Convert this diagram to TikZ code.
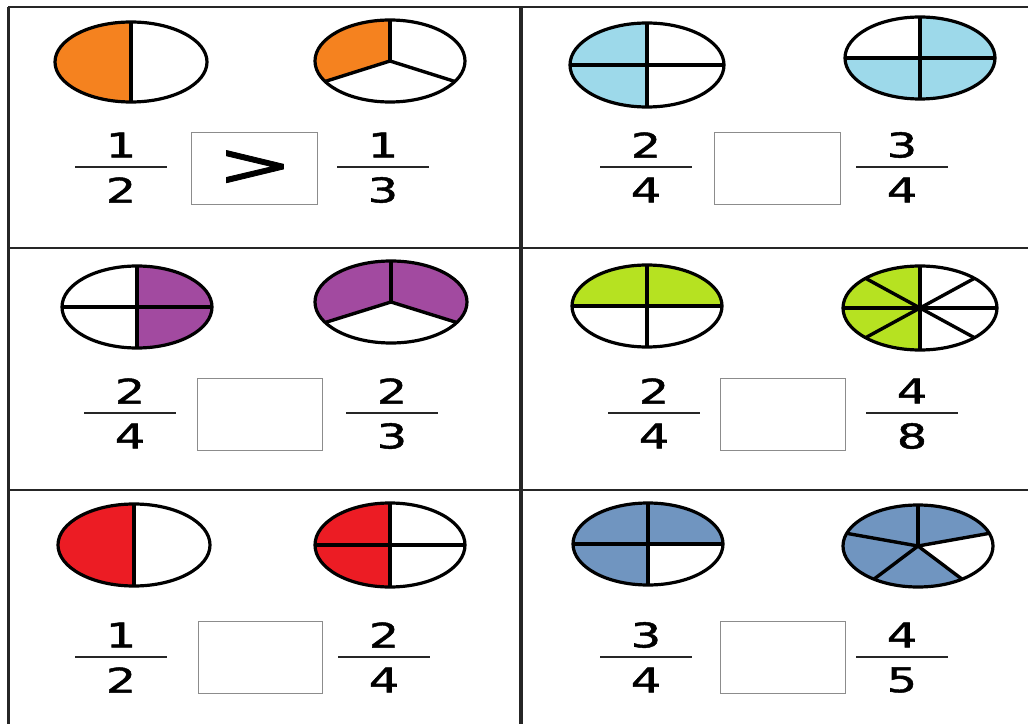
\documentclass[tikz,border=0pt]{standalone}
\usepackage{fontspec}
\newfontfamily\digitfont[FakeBold=1.3]{DejaVu Sans}
\definecolor{pieorange}{HTML}{F5821F}
\definecolor{pieblue}{HTML}{9DD9EA}
\definecolor{piepurple}{HTML}{A24AA0}
\definecolor{piegreen}{HTML}{B6E221}
\definecolor{piered}{HTML}{EC1C24}
\definecolor{piesteel}{HTML}{7095C0}
\newcommand\pieSect[3]{\fill[#3] (0,0) -- (#1:\rx pt and \ry pt) arc[start angle=#1,end angle=#2,x radius=\rx pt,y radius=\ry pt] -- cycle;}
\newcommand\pieSpoke[1]{\draw[divider] (0,0) -- (#1:\rx pt and \ry pt);}
\newcommand\pieRim{\draw[rimline] (0,0) ellipse [x radius=\rx pt,y radius=\ry pt];}
\newcommand\frc[5]{%
  \node[digit] (#1n) at (#2,#3+22) {#4};
  \node[digit] (#1d) at (#2,#3-23) {#5};
  \draw[fracbar] (#2-46,#3) -- (#2+46,#3);}
\begin{document}
\begin{tikzpicture}[x=1pt,y=1pt,
  digit/.style={font=\digitfont\fontsize{34}{34}\selectfont, inner sep=0pt, xscale=1.4},
  fracbar/.style={line width=2.8pt, black!85},
  answerbox/.style={draw=black!45, line width=1pt, minimum height=72pt, inner sep=0pt},
  gridline/.style={draw=black!85, line width=2pt},
  rimline/.style={line width=3.2pt},
  divider/.style={line width=3.4pt},
  signtext/.style={font=\digitfont\fontsize{60}{60}\selectfont, inner sep=0pt, xscale=1.5}]
\useasboundingbox (0,0) rectangle (1028,724);
\fill[white] (0,0) rectangle (1028,724);
% grid
\draw[gridline] (8,717) -- (1028,717);
\draw[gridline] (8,476) -- (1028,476);
\draw[gridline] (8,234) -- (1028,234);
\draw[gridline, line width=3pt] (8,717) -- (8,0);
\draw[gridline, line width=4pt] (521,717) -- (521,0);
% row 1 pies
\begin{scope}[shift={(131,662)}]\def\rx{76}\def\ry{40}
  \pieSect{90}{270}{pieorange}\pieSpoke{90}\pieSpoke{270}\pieRim
\end{scope}
\begin{scope}[shift={(390,663)}]\def\rx{75}\def\ry{41}
  \pieSect{90}{210}{pieorange}\pieSpoke{90}\pieSpoke{210}\pieSpoke{330}\pieRim
\end{scope}
\begin{scope}[shift={(647,659)}]\def\rx{77}\def\ry{42}
  \pieSect{90}{270}{pieblue}\pieSpoke{0}\pieSpoke{90}\pieSpoke{180}\pieSpoke{270}\pieRim
\end{scope}
\begin{scope}[shift={(920,666)}]\def\rx{75}\def\ry{41}
  \pieSect{180}{450}{pieblue}\pieSpoke{0}\pieSpoke{90}\pieSpoke{180}\pieSpoke{270}\pieRim
\end{scope}
% row 2 pies
\begin{scope}[shift={(137,417)}]\def\rx{75}\def\ry{41}
  \pieSect{-90}{90}{piepurple}\pieSpoke{0}\pieSpoke{90}\pieSpoke{180}\pieSpoke{270}\pieRim
\end{scope}
\begin{scope}[shift={(391,422)}]\def\rx{76}\def\ry{41}
  \pieSect{-30}{210}{piepurple}\pieSpoke{90}\pieSpoke{210}\pieSpoke{330}\pieRim
\end{scope}
\begin{scope}[shift={(647,418)}]\def\rx{75}\def\ry{41}
  \pieSect{0}{180}{piegreen}\pieSpoke{0}\pieSpoke{90}\pieSpoke{180}\pieSpoke{270}\pieRim
\end{scope}
\begin{scope}[shift={(920,416)}]\def\rx{77}\def\ry{42}
  \pieSect{90}{270}{piegreen}\foreach \a in {0,45,...,315}{\pieSpoke{\a}}\pieRim
\end{scope}
% row 3 pies
\begin{scope}[shift={(134,179)}]\def\rx{76}\def\ry{41}
  \pieSect{90}{270}{piered}\pieSpoke{90}\pieSpoke{270}\pieRim
\end{scope}
\begin{scope}[shift={(390,179)}]\def\rx{75}\def\ry{42}
  \pieSect{90}{270}{piered}\pieSpoke{0}\pieSpoke{90}\pieSpoke{180}\pieSpoke{270}\pieRim
\end{scope}
\begin{scope}[shift={(648,180)}]\def\rx{75}\def\ry{41}
  \pieSect{0}{270}{piesteel}\pieSpoke{0}\pieSpoke{90}\pieSpoke{180}\pieSpoke{270}\pieRim
\end{scope}
\begin{scope}[shift={(918,178)}]\def\rx{75}\def\ry{41}
  \pieSect{18}{306}{piesteel}\foreach \a in {90,18,-54,-126,162}{\pieSpoke{\a}}\pieRim
\end{scope}
% fractions
\frc{fa}{121}{557}{1}{2}
\frc{fb}{383}{557}{1}{3}
\frc{fc}{646}{557}{2}{4}
\frc{fd}{902}{557}{3}{4}
\frc{fe}{130}{311}{2}{4}
\frc{ff}{392}{311}{2}{3}
\frc{fg}{654}{311}{2}{4}
\frc{fh}{912}{311}{4}{8}
\frc{fi}{121}{67}{1}{2}
\frc{fj}{384}{67}{2}{4}
\frc{fk}{646}{67}{3}{4}
\frc{fl}{902}{67}{4}{5}
% answer boxes
\node[answerbox, minimum width=126pt] (ba) at (254,555) {};
\node[signtext] (gt) at (255,556) {>};
\node[answerbox, minimum width=126pt] (bb) at (777,555) {};
\node[answerbox, minimum width=125pt] (bc) at (259.5,310) {};
\node[answerbox, minimum width=125pt] (bd) at (782.5,310) {};
\node[answerbox, minimum width=124pt] (be) at (260,67) {};
\node[answerbox, minimum width=125pt] (bf) at (782.5,67) {};
\end{tikzpicture}
\end{document}
